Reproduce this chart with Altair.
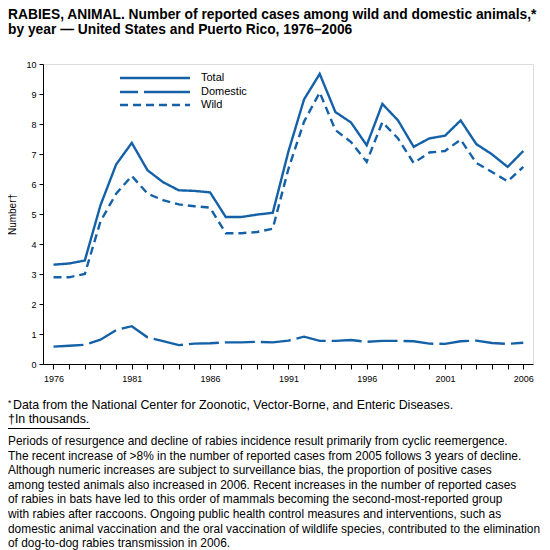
import altair as alt
import pandas as pd

years = list(range(1976, 2007))
total = [3.31, 3.35, 3.45, 5.29, 6.65, 7.37, 6.46, 6.06, 5.79, 5.77, 5.72,
         4.90, 4.90, 4.98, 5.04, 7.08, 8.82, 9.67, 8.40, 8.05, 7.29,
         8.67, 8.12, 7.24, 7.52, 7.61, 8.12, 7.33, 6.99, 6.57, 7.10]
domestic = [0.58, 0.61, 0.64, 0.81, 1.13, 1.26, 0.89, 0.76, 0.63, 0.68, 0.69,
            0.72, 0.72, 0.74, 0.72, 0.78, 0.91, 0.77, 0.77, 0.80, 0.74,
            0.77, 0.77, 0.76, 0.68, 0.67, 0.76, 0.78, 0.70, 0.67, 0.71]
wild = [2.89, 2.89, 3.00, 4.75, 5.68, 6.27, 5.68, 5.46, 5.32, 5.26, 5.21,
        4.36, 4.36, 4.40, 4.51, 6.50, 8.08, 9.05, 7.80, 7.40, 6.74,
        8.06, 7.52, 6.70, 7.05, 7.10, 7.48, 6.70, 6.40, 6.09, 6.57]
series_names = ["Total", "Domestic", "Wild"]

title_lines = [
    "RABIES, ANIMAL. Number of reported cases among wild and domestic animals,*",
    "by year \u2014 United States and Puerto Rico, 1976\u20132006",
]
footnote1 = "Data from the National Center for Zoonotic, Vector-Borne, and Enteric Diseases."
footnote2 = "\u2020In thousands."
paragraph = [
    "Periods of resurgence and decline of rabies incidence result primarily from cyclic reemergence.",
    "The recent increase of >8% in the number of reported cases from 2005 follows 3 years of decline.",
    "Although numeric increases are subject to surveillance bias, the proportion of positive cases",
    "among tested animals also increased in 2006. Recent increases in the number of reported cases",
    "of rabies in bats have led to this order of mammals becoming the second-most-reported group",
    "with rabies after raccoons. Ongoing public health control measures and interventions, such as",
    "domestic animal vaccination and the oral vaccination of wildlife species, contributed to the elimination",
    "of dog-to-dog rabies transmission in 2006.",
]

BLUE = "#1461a8"
FONT = "Liberation Sans"

rows = []
for name, vals in zip(series_names, [total, domestic, wild]):
    for yr, v in zip(years, vals):
        rows.append({"year": yr, "value": v, "series": name})
df = pd.DataFrame(rows)

dashes = [[1, 0], [30, 6], [8, 5]]

lines = alt.Chart(df).mark_line(color=BLUE, strokeWidth=2.4).encode(
    x=alt.X("year:Q",
            scale=alt.Scale(domain=[1975.33, 2006.62], nice=False, zero=False),
            axis=alt.Axis(values=years, title=None, grid=False, tickSize=5,
                          labelExpr="datum.value % 5 == 1 ? toString(datum.value) : ''",
                          labelFontSize=9, labelPadding=5, labelFlush=False,
                          labelColor="black", tickColor="black", domainColor="black")),
    y=alt.Y("value:Q",
            scale=alt.Scale(domain=[0, 10], nice=False),
            axis=alt.Axis(values=list(range(0, 11)), title="Number\u2020", grid=False,
                          tickSize=4, labelFontSize=9, labelPadding=3,
                          labelColor="black", tickColor="black", domainColor="black",
                          titleFontSize=10, titleFontWeight="normal", titleColor="black",
                          titlePadding=8)),
    strokeDash=alt.StrokeDash("series:N",
                              scale=alt.Scale(domain=series_names, range=dashes),
                              legend=None),
    detail="series:N",
)

layers = [lines]

# manual legend
leg_y = [14, 28, 41]
leg_dash = [[1, 0], [18, 6, 50, 0], [8, 5]]
for name, yy, dsh in zip(series_names, leg_y, leg_dash):
    layers.append(alt.Chart(pd.DataFrame({"s": [name]})).mark_rule(
        color=BLUE, strokeWidth=2.4, strokeDash=dsh).encode(
        x=alt.value(77), x2=alt.value(147), y=alt.value(yy)))
    layers.append(alt.Chart(pd.DataFrame({"s": [name]})).mark_text(
        align="left", baseline="middle", fontSize=11, font=FONT, color="black").encode(
        x=alt.value(158), y=alt.value(yy), text="s:N"))

# title
for i, t in enumerate(title_lines):
    layers.append(alt.Chart(pd.DataFrame({"t": [t]})).mark_text(
        align="left", baseline="middle", fontSize=13.8, fontWeight="bold",
        font=FONT, color="black").encode(
        x=alt.value(-35), y=alt.value(-49 + 14.5 * i), text="t:N"))

# footnotes
layers.append(alt.Chart(pd.DataFrame({"t": ["*"]})).mark_text(
    align="left", baseline="middle", fontSize=8.5, font=FONT, color="black").encode(
    x=alt.value(-35), y=alt.value(339), text="t:N"))
layers.append(alt.Chart(pd.DataFrame({"t": [footnote1]})).mark_text(
    align="left", baseline="middle", fontSize=12.4, font=FONT, color="black").encode(
    x=alt.value(-30), y=alt.value(341), text="t:N"))
layers.append(alt.Chart(pd.DataFrame({"t": [footnote2]})).mark_text(
    align="left", baseline="middle", fontSize=12.4, font=FONT, color="black").encode(
    x=alt.value(-35), y=alt.value(355), text="t:N"))
layers.append(alt.Chart(pd.DataFrame({"t": [1]})).mark_rule(
    color="black", strokeWidth=1).encode(
    x=alt.value(-36), x2=alt.value(47), y=alt.value(364.5)))

for i, t in enumerate(paragraph):
    layers.append(alt.Chart(pd.DataFrame({"t": [t]})).mark_text(
        align="left", baseline="middle", fontSize=11.9, font=FONT, color="black").encode(
        x=alt.value(-35), y=alt.value(377 + 14.6 * i), text="t:N"))

chart = alt.layer(*layers).properties(
    width=490, height=300,
    autosize=alt.AutoSizeParams(type="none"),
    padding={"left": 35, "top": 56, "right": 9, "bottom": 186},
).configure_view(stroke="black", strokeWidth=1).configure_axis(
    labelFont=FONT, titleFont=FONT
).configure(background="white")

chart.save("out.html", embed_options={"renderer": "svg", "actions": False})
